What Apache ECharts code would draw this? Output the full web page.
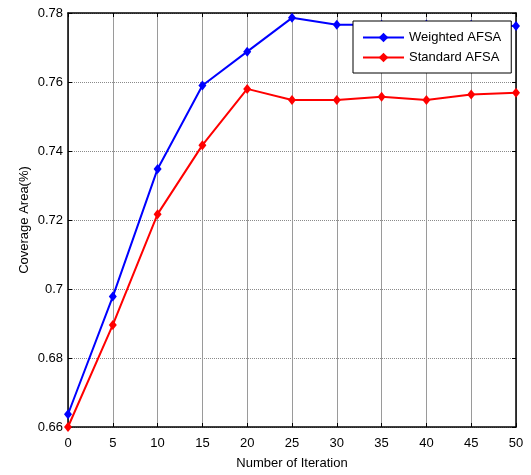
<!DOCTYPE html>
<html>
<head>
<meta charset="utf-8">
<script src="https://cdn.jsdelivr.net/npm/echarts@6/dist/echarts.min.js"></script>
<style>html,body{margin:0;padding:0;background:#fff;}#c{width:531px;height:475px;}</style>
</head>
<body>
<div id="c"></div>
<script>
const iterations = [0, 5, 10, 15, 20, 25, 30, 35, 40, 45, 50];
const weightedAFSA = [0.6637, 0.6978, 0.7348, 0.7590, 0.7688, 0.7786, 0.7766, 0.7766, 0.7767, 0.7766, 0.7762];
const standardAFSA = [0.6600, 0.6896, 0.7217, 0.7417, 0.7580, 0.7548, 0.7548, 0.7557, 0.7548, 0.7564, 0.7569];
const yTicks = [0.66, 0.68, 0.7, 0.72, 0.74, 0.76, 0.78];
const seriesNames = ['Weighted AFSA', 'Standard AFSA'];

const font = 'Liberation Sans, Arial, sans-serif';
const chart = echarts.init(document.getElementById('c'));
function pairs(vals){ return iterations.map((x,i)=>[x, vals[i]]); }
chart.setOption({
  animation: false,
  backgroundColor: '#fff',
  grid: { left: 68, right: 15, top: 13, bottom: 48, containLabel: false },
  legend: {
    orient: 'vertical',
    left: 353, top: 21,
    backgroundColor: '#fff',
    borderColor: '#000', borderWidth: 1, borderRadius: 0,
    padding: [10, 10, 9, 9],
    itemWidth: 41, itemHeight: 12, itemGap: 7,
    textStyle: { fontFamily: font, fontSize: 13, color: '#000', padding: [0,0,0,0] },
    data: seriesNames
  },
  xAxis: [{
    type: 'value', min: 0, max: 50, interval: 5,
    name: 'Number of Iteration', nameLocation: 'middle', nameGap: 30, nameMoveOverlap: false,
    nameTextStyle: { fontFamily: font, fontSize: 13, color: '#000' },
    axisLine: { show: true, onZero: false, lineStyle: { color: '#000', width: 1.5 } },
    axisTick: { show: true, inside: true, length: 4, lineStyle: { color: '#000' } },
    axisLabel: { fontFamily: font, fontSize: 13, color: '#000', margin: 10 },
    splitLine: { show: true, lineStyle: { color: '#9a9a9a', width: 1, type: 'solid' } }
  }, {
    type: 'value', position: 'top', min: 0, max: 50, interval: 5,
    axisLine: { show: true, onZero: false, lineStyle: { color: '#000', width: 1.5 } },
    axisTick: { show: true, inside: true, length: 4, lineStyle: { color: '#000' } },
    axisLabel: { show: false }, splitLine: { show: false }
  }],
  yAxis: [{
    type: 'value', min: 0.66, max: 0.78, interval: 0.02,
    name: 'Coverage Area(%)', nameLocation: 'middle', nameGap: 37, nameMoveOverlap: false,
    nameTextStyle: { fontFamily: font, fontSize: 13, color: '#000' },
    axisLine: { show: true, onZero: false, lineStyle: { color: '#000', width: 1.5 } },
    axisTick: { show: true, inside: true, length: 4, lineStyle: { color: '#000' } },
    axisLabel: { fontFamily: font, fontSize: 13, color: '#000', margin: 5,
      formatter: v => { const t = yTicks.find(k => Math.abs(k - v) < 1e-9); return t === undefined ? '' : String(t); } },
    splitLine: { show: true, lineStyle: { color: '#8a8a8a', width: 1, type: [1, 1] } }
  }, {
    type: 'value', position: 'right', min: 0.66, max: 0.78, interval: 0.02,
    axisLine: { show: true, onZero: false, lineStyle: { color: '#000', width: 1.5 } },
    axisTick: { show: true, inside: true, length: 4, lineStyle: { color: '#000' } },
    axisLabel: { show: false }, splitLine: { show: false }
  }],
  series: [{
    name: seriesNames[0], type: 'line', data: pairs(weightedAFSA),
    color: '#0000ff', lineStyle: { width: 2, color: '#0000ff' },
    symbol: 'diamond', symbolSize: [8, 10], itemStyle: { color: '#0000ff' }, z: 3
  }, {
    name: seriesNames[1], type: 'line', data: pairs(standardAFSA),
    color: '#ff0000', lineStyle: { width: 2, color: '#ff0000' },
    symbol: 'diamond', symbolSize: [8, 10], itemStyle: { color: '#ff0000' }, z: 2
  }]
});
</script>
</body>
</html>
